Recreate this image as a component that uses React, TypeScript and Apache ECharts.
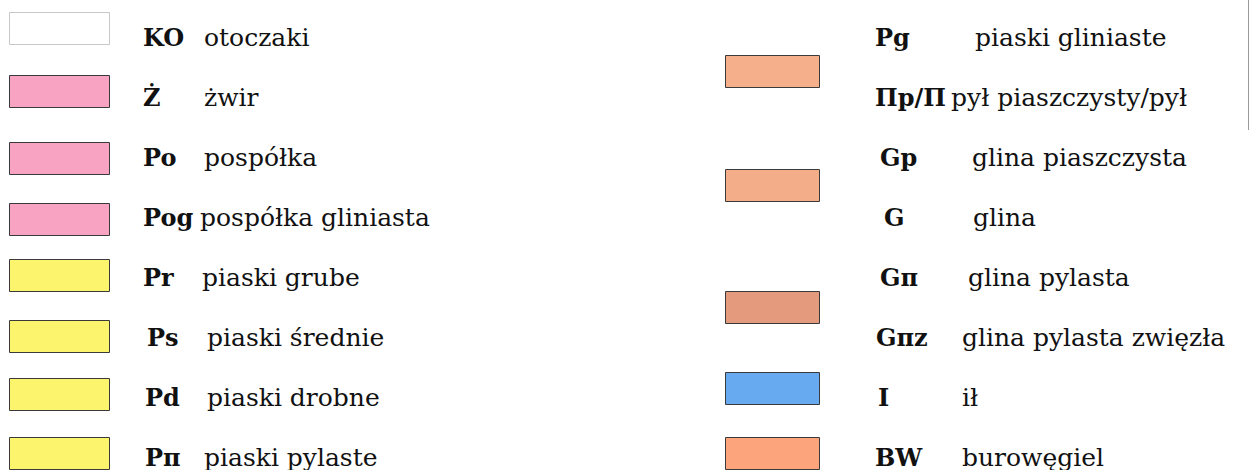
import React, { useEffect, useRef } from "react";
import * as echarts from "echarts";

// ---- data ----
const leftCodes = ["KO", "Ż", "Po", "Pog", "Pr", "Ps", "Pd", "Pπ"];
const leftNames = [
  "otoczaki",
  "żwir",
  "pospółka",
  "pospółka gliniasta",
  "piaski grube",
  "piaski średnie",
  "piaski drobne",
  "piaski pylaste",
];
const leftColors = ["#ffffff", "#f9a3c2", "#f9a3c2", "#f9a3c2", "#fdf46e", "#fdf46e", "#fdf46e", "#fdf46e"];

const rightCodes = ["Pg", "Пp/П", "Gp", "G", "Gπ", "Gπz", "I", "BW"];
const rightNames = [
  "piaski gliniaste",
  "pył piaszczysty/pył",
  "glina piaszczysta",
  "glina",
  "glina pylasta",
  "glina pylasta zwięzła",
  "ił",
  "burowęgiel",
];
// one swatch per group of rows
const rightGroups = [[0, 1], [2, 3], [4, 5], [6], [7]];
const rightGroupColors = ["#f5b08b", "#f3ae89", "#e49a7c", "#68aaf0", "#fca47c"];

// ---- layout ----
const ROW0 = 37;
const ROW_STEP = 60;
const FAMILY = "DejaVu Serif";
const CODE_FS = 24;
const NAME_FS = 25;
const leftBoxTops = [12, 75, 142, 203, 259, 320, 378, 437];
const leftCodeX = [143, 143, 143, 143, 143, 147, 145, 145];
const leftNameX = [204, 204, 204, 200, 202, 207, 207, 204];
const rightCodeX = [875, 875, 880, 884, 880, 876, 878, 875];
const rightNameX = [975, 951, 972, 973, 968, 962, 962, 962];
const rightBoxTops = [55, 169, 291, 372, 437];

export default function App() {
  const ref = useRef<HTMLDivElement>(null);
  useEffect(() => {
    document.body.style.margin = "0";
    const chart = echarts.init(ref.current!, null, { renderer: "svg" });
    const els: any[] = [];
    const rowY = (i: number) => ROW0 + i * ROW_STEP;
    const txt = (x: number, y: number, text: string, bold: boolean) => ({
      type: "text",
      x,
      y,
      style: {
        text,
        fontFamily: FAMILY,
        fontSize: bold ? CODE_FS : NAME_FS,
        fontWeight: bold ? 700 : 400,
        fill: "#111",
        verticalAlign: "middle",
        align: "left",
      },
    });

    leftCodes.forEach((c, i) => {
      els.push({
        type: "rect",
        shape: { x: 9.5, y: leftBoxTops[i] + 0.5, width: 100, height: 32 },
        style: {
          fill: leftColors[i],
          stroke: i === 0 ? "#c8c8c8" : "#3a3a3a",
          lineWidth: 1,
        },
      });
      els.push(txt(leftCodeX[i], rowY(i), c, true));
      els.push(txt(leftNameX[i], rowY(i), leftNames[i], false));
    });

    rightGroups.forEach((_, g) => {
      els.push({
        type: "rect",
        shape: { x: 725.5, y: rightBoxTops[g] + 0.5, width: 94, height: 32 },
        style: { fill: rightGroupColors[g], stroke: "#3a3a3a", lineWidth: 1 },
      });
    });

    rightCodes.forEach((c, i) => {
      els.push(txt(rightCodeX[i], rowY(i), c, true));
      els.push(txt(rightNameX[i], rowY(i), rightNames[i], false));
    });

    els.push({
      type: "line",
      shape: { x1: 1248.5, y1: 0, x2: 1248.5, y2: 130 },
      style: { stroke: "#9a9a9a", lineWidth: 1 },
    });

    chart.setOption({
      animation: false,
      backgroundColor: "#ffffff",
      graphic: { elements: els },
    });
    return () => chart.dispose();
  }, []);
  return <div ref={ref} style={{ width: 1251, height: 470 }} />;
}
